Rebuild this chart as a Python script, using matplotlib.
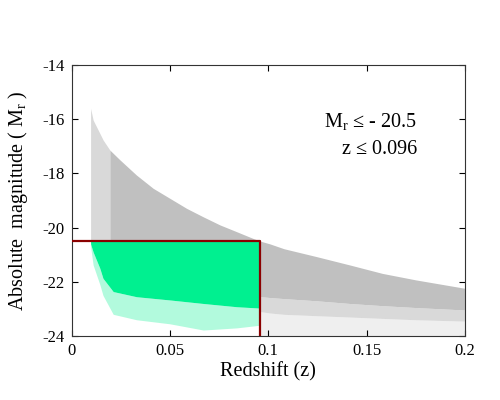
import matplotlib
matplotlib.use("Agg")
import matplotlib.pyplot as plt

plt.rcParams["font.family"] = ["Liberation Serif", "DejaVu Serif"]
plt.rcParams["mathtext.fontset"] = "stix"
plt.rcParams["axes.unicode_minus"] = False

# cut of the volume-limited sample
M_CUT = -20.5
Z_CUT = 0.096

# full sample (gray), edges
# sparse strip at the low-z end
strip_z = [0.0097, 0.011, 0.0161, 0.0195]
strip_top = [-15.6, -16.03, -16.77, -17.14]

# dense part up to the redshift cut
dense_z = [0.0195, 0.0246, 0.033, 0.0415, 0.05, 0.0585, 0.0669, 0.0754,
           0.0839, 0.0923, 0.096]
dense_top = [-17.14, -17.5, -18.06, -18.55, -18.92, -19.29, -19.6, -19.9,
             -20.15, -20.4, -20.5]

# beyond the redshift cut
tail_z = [0.096, 0.1008, 0.108, 0.1245, 0.1415, 0.158, 0.175, 0.2]
tail_top = [-20.5, -20.6, -20.78, -21.07, -21.38, -21.69, -21.93, -22.24]
tail_dense = [-22.55, -22.58, -22.62, -22.7, -22.8, -22.88, -22.95, -23.04]
tail_mid = [-23.1, -23.15, -23.2, -23.25, -23.3, -23.35, -23.4, -23.45]

# selected sample (green)
green_z = [0.0097, 0.011, 0.0144, 0.016, 0.0212, 0.033, 0.05, 0.067, 0.084, 0.096]
green_dense = [-20.6, -20.9, -21.5, -21.87, -22.36, -22.55, -22.67, -22.8,
               -22.92, -22.97]
green_sparse = [-20.7, -21.38, -22.1, -22.5, -23.2, -23.4, -23.55, -23.78,
                -23.7, -23.6]

GRAY = "#c0c0c0"
GREEN = "#00f090"

fig = plt.figure(figsize=(5, 4), dpi=100)
ax = fig.add_axes([0.143, 0.16, 0.787, 0.6775])

# full sample
ax.fill_between(strip_z, strip_top, M_CUT, color=GRAY, alpha=0.6,
                linewidth=0, zorder=1)
ax.fill_between(dense_z, dense_top, M_CUT, color=GRAY, linewidth=0, zorder=1)
ax.fill_between(tail_z, tail_top, tail_dense, color=GRAY, linewidth=0, zorder=1)
ax.fill_between(tail_z, tail_dense, tail_mid, color=GRAY, alpha=0.6,
                linewidth=0, zorder=1)
ax.fill_between(tail_z, tail_mid, -24, color=GRAY, alpha=0.25,
                linewidth=0, zorder=1)

# volume-limited sample
ax.fill_between(green_z, M_CUT, green_dense, color=GREEN, linewidth=0, zorder=2)
ax.fill_between(green_z, green_dense, green_sparse, color=GREEN, alpha=0.3,
                linewidth=0, zorder=2)

# selection box
ax.plot([0, Z_CUT, Z_CUT], [M_CUT, M_CUT, -24], color="#8b0000",
        linewidth=1.6, zorder=3)

ax.text(0.1755, -16.1, r"$\mathregular{M_r}$ ≤ - 20.5", ha="right",
        va="center", fontsize=14.5)
ax.text(0.1755, -17.1, "z ≤ 0.096", ha="right", va="center", fontsize=14.5)

ax.set_xlim(0, 0.2)
ax.set_ylim(-24, -14)
ax.set_xticks([0, 0.05, 0.1, 0.15, 0.2])
ax.set_xticklabels(["0", "0.05", "0.1", "0.15", "0.2"])
ax.set_yticks([-24, -22, -20, -18, -16, -14])
ax.tick_params(direction="in", length=4, width=0.8, top=True, right=True,
               labelsize=12, pad=5)
for s in ax.spines.values():
    s.set_linewidth(0.8)
    s.set_color("#333333")

ax.set_xlabel("Redshift (z)", fontsize=14.5, labelpad=2)
ax.set_ylabel(r"Absolute  magnitude ( $\mathregular{M_r}$ )", fontsize=14.5,
              labelpad=9)

fig.savefig("out.png", dpi=100, facecolor="white")
